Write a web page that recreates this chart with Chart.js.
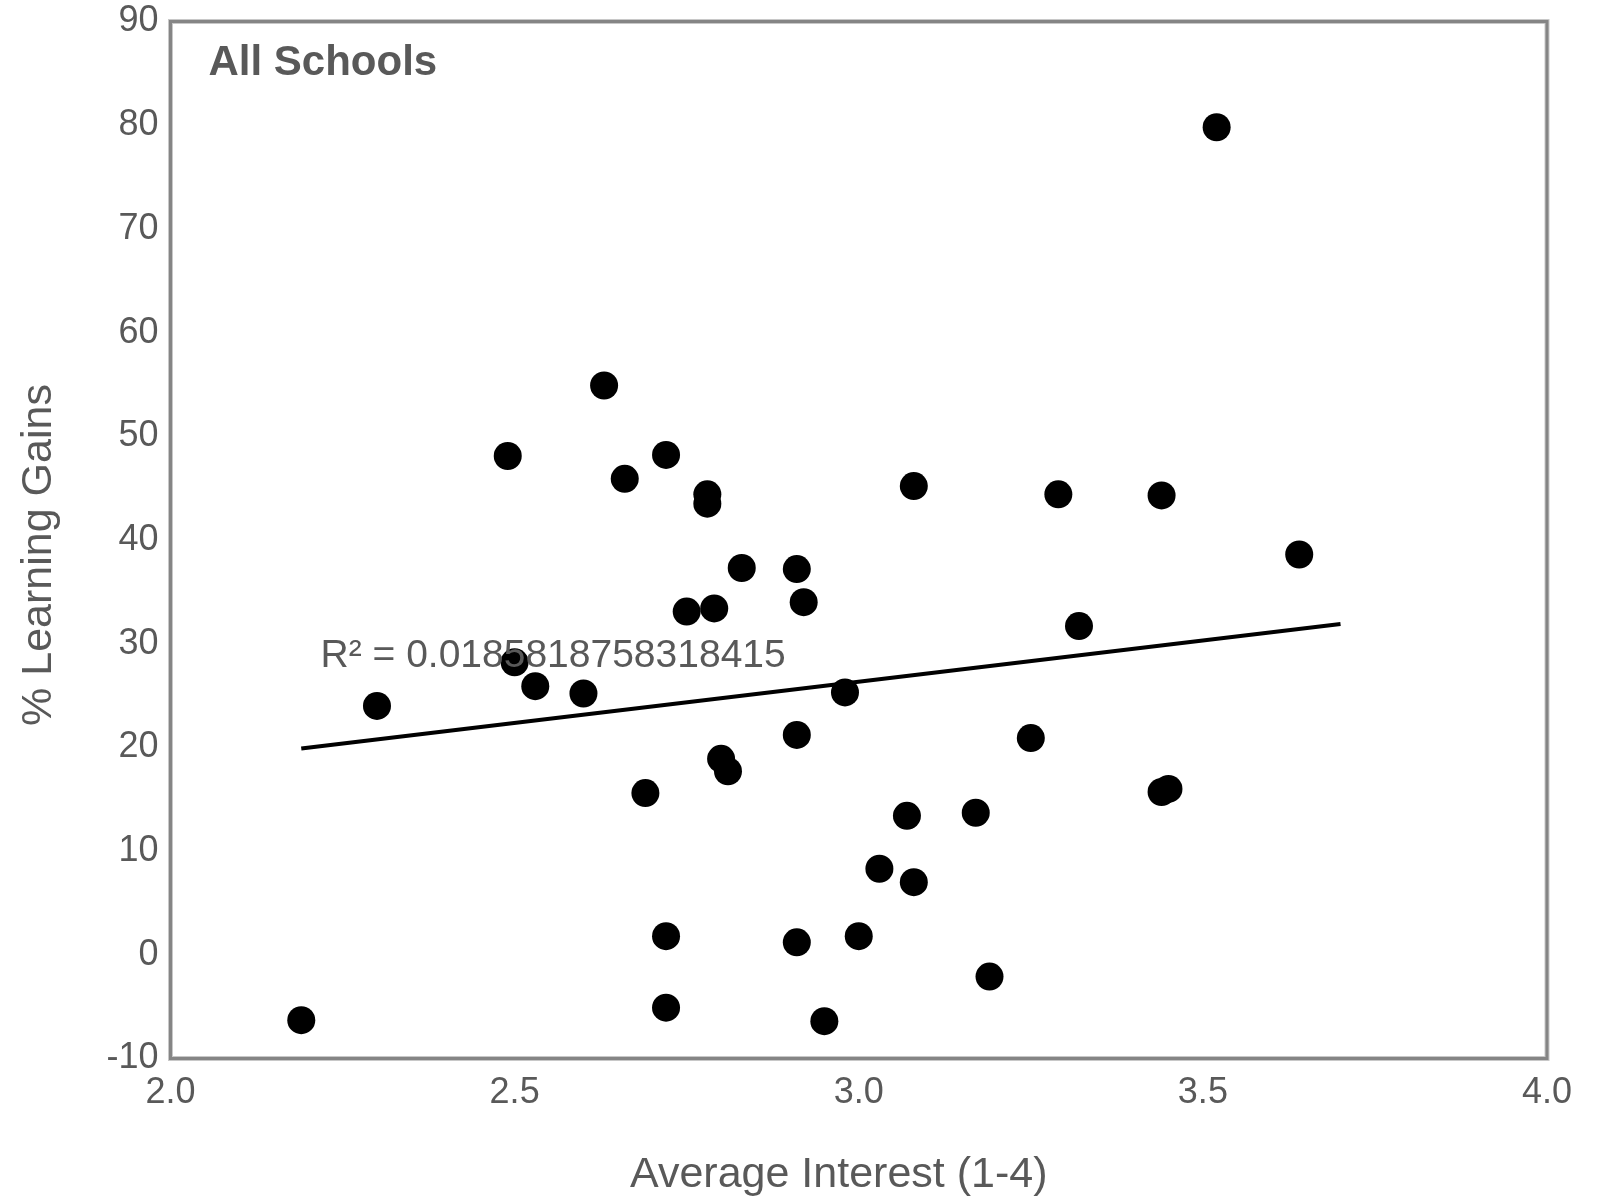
<!DOCTYPE html>
<html>
<head>
<meta charset="utf-8">
<script src="https://cdn.jsdelivr.net/npm/chart.js@4.4.1/dist/chart.umd.min.js"></script>
<style>
  html, body { margin: 0; padding: 0; background: #ffffff; }
  #wrap { width: 1602px; height: 1198px; }
</style>
</head>
<body>
<div id="wrap"><canvas id="c" width="1602" height="1198"></canvas></div>
<script>
// ---- data ----
const interestX = [2.19, 2.30, 2.49, 2.50, 2.53, 2.60, 2.63, 2.66, 2.69, 2.72,
                   2.72, 2.72, 2.75, 2.78, 2.78, 2.79, 2.80, 2.81, 2.83, 2.91,
                   2.91, 2.91, 2.92, 2.95, 2.98, 3.00, 3.03, 3.07, 3.08, 3.08,
                   3.17, 3.19, 3.25, 3.29, 3.32, 3.44, 3.44, 3.45, 3.52, 3.64];
const gainsY    = [-6.3, 24.0, 48.1, 28.2, 25.9, 25.2, 54.9, 45.9, 15.6, 48.2,
                   1.8, -5.1, 33.1, 44.4, 43.5, 33.4, 18.9, 17.7, 37.3, 37.2,
                   21.2, 1.2, 34.0, -6.4, 25.3, 1.8, 8.3, 13.4, 45.2, 7.0,
                   13.7, -2.1, 20.9, 44.4, 31.7, 44.3, 15.7, 16.0, 79.8, 38.6];
const trendX = [2.19, 3.70];
const trendY = [19.9, 31.9];
const xTicks = [2.0, 2.5, 3.0, 3.5, 4.0];
const yTicks = [-10, 0, 10, 20, 30, 40, 50, 60, 70, 80, 90];
const chartTitle = "All Schools";
const rSquaredLabel = "R\u00B2 = 0.0185818758318415";
const xTitle = "Average Interest (1-4)";
const yTitle = "% Learning Gains";

const FONT = "'Liberation Sans', Arial, Helvetica, sans-serif";
const TEXT = "#595959";

const points = interestX.map((x, i) => ({ x: x, y: gainsY[i] }));
const trend = trendX.map((x, i) => ({ x: x, y: trendY[i] }));

const framePlugin = {
  id: 'frame',
  afterDatasetsDraw(chart) {
    const { ctx, chartArea: a, scales } = chart;
    ctx.save();
    // frame
    ctx.strokeStyle = '#c8c8c8';
    ctx.lineWidth = 5;
    ctx.strokeRect(a.left, a.top, a.right - a.left, a.bottom - a.top);
    ctx.strokeStyle = '#858585';
    ctx.lineWidth = 3;
    ctx.strokeRect(a.left, a.top, a.right - a.left, a.bottom - a.top);
    ctx.fillStyle = TEXT;
    ctx.textBaseline = 'middle';
    // panel title
    ctx.font = "bold 42px " + FONT;
    ctx.textAlign = 'left';
    ctx.fillText(chartTitle, a.left + 38, a.top + 42);
    // R squared annotation
    ctx.font = "39px " + FONT;
    ctx.fillText(rSquaredLabel, scales.x.getPixelForValue(2.218), scales.y.getPixelForValue(28.8));
    // axis titles
    ctx.font = "43px " + FONT;
    ctx.textAlign = 'center';
    ctx.fillText(xTitle, (a.left + a.right) / 2 - 20, 1175);
    ctx.translate(39, (a.top + a.bottom) / 2 + 15);
    ctx.rotate(-Math.PI / 2);
    ctx.fillText(yTitle, 0, 0);
    ctx.restore();
  }
};

new Chart(document.getElementById('c'), {
  type: 'scatter',
  data: {
    datasets: [
      {
        type: 'line',
        data: trend,
        borderColor: '#000000',
        borderWidth: 4,
        pointRadius: 0,
        fill: false,
        order: 1
      },
      {
        data: points,
        backgroundColor: '#000000',
        borderWidth: 0,
        pointRadius: 14,
        pointHoverRadius: 14,
        order: 2
      }
    ]
  },
  options: {
    responsive: false,
    animation: false,
    devicePixelRatio: 1,
    layout: { padding: { left: 0, right: 55, top: 21.5, bottom: 0 } },
    plugins: {
      legend: { display: false },
      tooltip: { enabled: false },
      title: { display: false }
    },
    scales: {
      x: {
        type: 'linear',
        min: 2.0,
        max: 4.0,
        afterBuildTicks(scale) { scale.ticks = xTicks.map(v => ({ value: v })); },
        afterFit(scale) {
          scale.height = 139.5;
          scale.paddingLeft = 0; scale.paddingRight = 0;
          scale.paddingTop = 0; scale.paddingBottom = 0;
        },
        grid: { display: false, drawTicks: false },
        border: { display: false },
        ticks: {
          padding: 13,
          color: TEXT,
          font: { family: FONT, size: 36 },
          maxRotation: 0,
          callback: v => Number(v).toFixed(1)
        },
        title: { display: false }
      },
      y: {
        type: 'linear',
        min: -10,
        max: 90,
        afterBuildTicks(scale) { scale.ticks = yTicks.map(v => ({ value: v })); },
        afterFit(scale) {
          scale.width = 170.5;
          scale.paddingLeft = 0; scale.paddingRight = 0;
          scale.paddingTop = 0; scale.paddingBottom = 0;
        },
        grid: { display: false, drawTicks: false },
        border: { display: false },
        ticks: {
          padding: 12,
          color: TEXT,
          font: { family: FONT, size: 36 },
          callback: v => String(v)
        },
        title: { display: false }
      }
    }
  },
  plugins: [framePlugin]
});
</script>
</body>
</html>
